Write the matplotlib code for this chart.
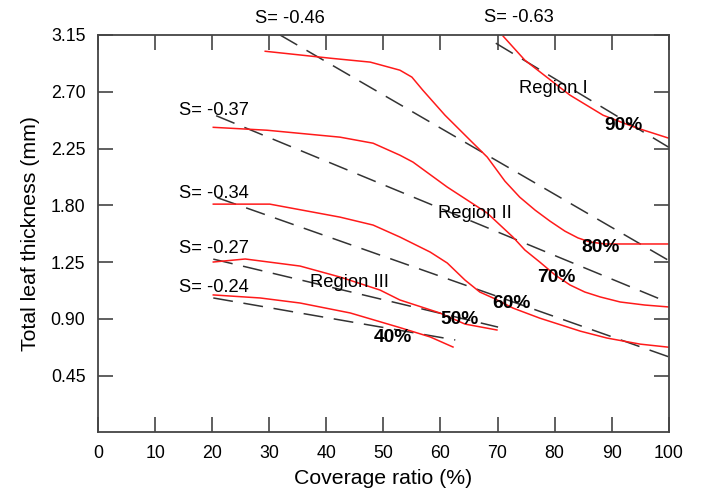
import matplotlib.pyplot as plt

plt.rcParams['font.family'] = ['Liberation Sans', 'DejaVu Sans']

# red curves: coverage ratio (%) vs total leaf thickness (mm)
x40 = [20.2, 28.4, 35.4, 44.2, 52.9, 58.2, 62.2]
y40 = [1.089, 1.065, 1.025, 0.946, 0.830, 0.756, 0.676]

x50 = [20.2, 25.8, 35.4, 42.4, 49.4, 52.9, 59.9, 64.3, 69.9]
y50 = [1.350, 1.374, 1.318, 1.231, 1.128, 1.049, 0.946, 0.858, 0.811]

x60 = [20.2, 30.1, 42.4, 48.2, 52.9, 58.2, 61.2, 64.3, 66.9, 69.6, 72.7, 77.4, 84.5, 89.2, 95.0, 99.9]
y60 = [1.809, 1.809, 1.706, 1.643, 1.548, 1.429, 1.342, 1.207, 1.112, 1.057, 0.985, 0.905, 0.802, 0.747, 0.699, 0.675]

x70 = [20.2, 29.6, 42.4, 48.2, 52.9, 55.2, 61.2, 68.2, 72.7, 74.8, 77.4, 80.1, 82.7, 85.3, 88.0, 91.5, 95.8, 99.9]
y70 = [2.418, 2.395, 2.340, 2.292, 2.197, 2.142, 1.944, 1.738, 1.548, 1.445, 1.350, 1.247, 1.168, 1.112, 1.073, 1.033, 1.009, 0.994]

x80 = [29.3, 40.7, 47.7, 52.9, 55.0, 56.9, 60.8, 65.2, 68.2, 71.3, 73.9, 76.6, 79.2, 81.8, 84.1, 86.2, 88.8, 99.9]
y80 = [3.021, 2.966, 2.935, 2.871, 2.816, 2.713, 2.514, 2.316, 2.182, 1.991, 1.864, 1.761, 1.674, 1.595, 1.541, 1.509, 1.493, 1.493]

x90 = [71.0, 74.8, 82.7, 88.5, 94.0, 100.0]
y90 = [3.140, 2.950, 2.673, 2.514, 2.419, 2.332]

# dashed fitted lines (start, end)
fit_slopes = ['-0.24', '-0.27', '-0.34', '-0.37', '-0.46', '-0.63']
fit_x = [[20.2, 62.6], [20.2, 70.1], [20.9, 99.9], [20.7, 99.9], [31.9, 99.9], [69.7, 100.0]]
fit_y = [[1.065, 0.732], [1.373, 0.834], [1.860, 0.600], [2.510, 1.030], [3.150, 1.365], [3.085, 2.260]]

pct_labels = ['40%', '50%', '60%', '70%', '80%', '90%']
pct_x = [51.7, 63.3, 72.4, 80.3, 88.1, 92.0]
pct_y = [0.755, 0.898, 1.025, 1.231, 1.468, 2.436]

s_x = [20.3, 20.3, 20.3, 20.3, 33.6, 73.8]
s_y = [1.150, 1.460, 1.896, 2.555, 3.283, 3.290]

regions = ['Region I', 'Region II', 'Region III']
region_x = [79.7, 66.0, 44.0]
region_y = [2.725, 1.737, 1.190]

xticks = [0, 10, 20, 30, 40, 50, 60, 70, 80, 90, 100]
ytick_labels = ['0.45', '0.90', '1.25', '1.80', '2.25', '2.70', '3.15']

fig = plt.figure(figsize=(7.02, 4.95), dpi=100)
ax = fig.add_axes([0.1396, 0.1267, 0.8130, 0.8026])

for xs, ys in zip(fit_x, fit_y):
    ax.plot(xs, ys, color='#333333', lw=1.1, dashes=(13, 7))

for xs, ys in [(x40, y40), (x50, y50), (x60, y60), (x70, y70), (x80, y80), (x90, y90)]:
    ax.plot(xs, ys, color='#ff1a1a', lw=1.1)

for lab, x, y in zip(pct_labels, pct_x, pct_y):
    ax.text(x, y, lab, fontsize=13.8, fontweight='bold', ha='center', va='center')

for lab, x, y in zip(fit_slopes, s_x, s_y):
    ax.text(x, y, 'S= ' + lab, fontsize=13.2, ha='center', va='center', clip_on=False)

for lab, x, y in zip(regions, region_x, region_y):
    ax.text(x, y, lab, fontsize=13.2, ha='center', va='center')

ax.set_xlim(0, 100)
ax.set_ylim(0, 3.15)
ax.set_xticks(xticks)
ax.set_yticks([0.45 * (i + 1) for i in range(len(ytick_labels))])
ax.set_yticklabels(ytick_labels)
ax.tick_params(direction='in', length=10.5, width=1.2, color='#444444', labelsize=12.8,
               top=True, right=True, pad=9)
for sp in ax.spines.values():
    sp.set_color('#444444')
    sp.set_linewidth(1.3)

ax.set_xlabel('Coverage ratio (%)', fontsize=15.3, labelpad=5)
ax.set_ylabel('Total leaf thickness (mm)', fontsize=15.3, labelpad=8)

fig.savefig('out.png', dpi=100)
